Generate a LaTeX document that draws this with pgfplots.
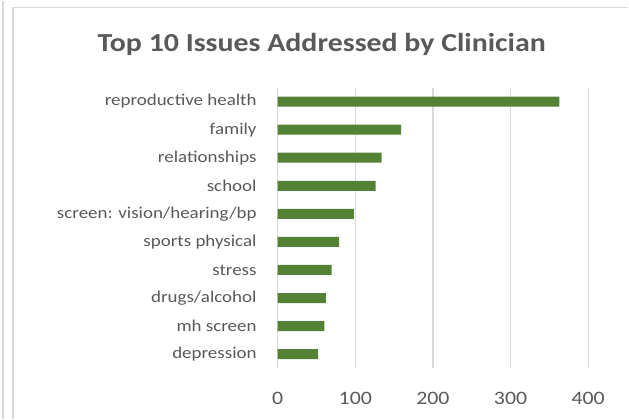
\documentclass[border=0pt]{standalone}
\usepackage{fontspec}
\setmainfont[FakeStretch=1.15]{Carlito}
\usepackage{pgfplots}
\pgfplotsset{compat=1.18}
\definecolor{barg}{HTML}{548235}
\definecolor{txt}{HTML}{595959}
\definecolor{gridc}{HTML}{D9D9D9}
\begin{document}
\begin{tikzpicture}[x=1pt,y=1pt]
\path (0,0) rectangle (629,419);
\draw[gridc, line width=1.2pt] (3,0) -- (3,419);
\draw[gridc, line width=1.2pt] (13,0) -- (13,412) -- (629,412);
\node[txt, font=\fontsize{26}{30}\selectfont\bfseries] at (322,375) {Top 10 Issues Addressed by Clinician};
\begin{axis}[at={(278pt,51pt)}, anchor=south west, scale only axis,
  width=310.7pt, height=281pt,
  xbar, bar width=10pt, xmin=0, xmax=400, ymin=-0.5, ymax=9.5,
  xtick={0,100,200,300,400}, ytick={0,1,2,3,4,5,6,7,8,9},
  yticklabels={depression, mh screen, drugs/alcohol, stress, sports physical, {screen: vision/hearing/bp}, school, relationships, family, reproductive health},
  axis line style={draw=none}, major tick length=0pt,
  xmajorgrids, grid style={gridc, line width=1.2pt},
  /pgf/number format/assume math mode=true,
  xticklabel style={txt, anchor=center, yshift=-30pt, font=\fontsize{19}{23}\selectfont},
  yticklabel style={txt, anchor=east, inner sep=0pt, xshift=-21pt, font=\fontsize{16.5}{20}\selectfont},
  clip=false]
\addplot[fill=barg, draw=none] coordinates {(52,0) (60,1) (62,2) (69.5,3) (79,4) (98,5) (126,6) (134,7) (159,8) (363,9)};
\end{axis}
\end{tikzpicture}
\end{document}
